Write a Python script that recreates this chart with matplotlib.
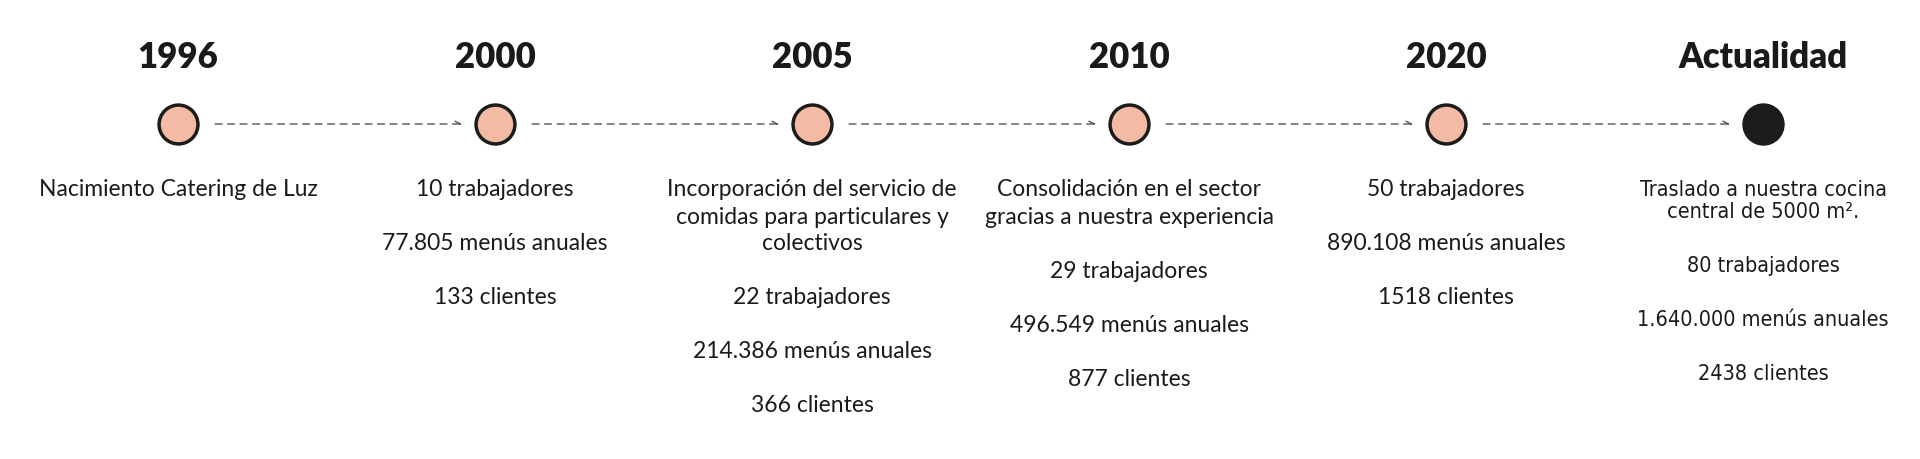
import matplotlib.pyplot as plt

years = ['1996', '2000', '2005', '2010', '2020', 'Actualidad']
descriptions = [
    [['Nacimiento Catering de Luz']],
    [['10 trabajadores'], ['77.805 menús anuales'], ['133 clientes']],
    [['Incorporación del servicio de', 'comidas para particulares y', 'colectivos'],
     ['22 trabajadores'], ['214.386 menús anuales'], ['366 clientes']],
    [['Consolidación en el sector', 'gracias a nuestra experiencia'],
     ['29 trabajadores'], ['496.549 menús anuales'], ['877 clientes']],
    [['50 trabajadores'], ['890.108 menús anuales'], ['1518 clientes']],
    [['Traslado a nuestra cocina', 'central de 5000 m².'],
     ['80 trabajadores'], ['1.640.000 menús anuales'], ['2438 clientes']],
]

fig = plt.figure(figsize=(19.2, 4.59), dpi=100)
ax = fig.add_axes([0, 0, 1, 1])
ax.set_xlim(-0.5615, 5.495)
ax.set_ylim(459, 0)
ax.axis('off')

node_y = 124
for i, year in enumerate(years):
    last = i == len(years) - 1
    ax.text(i, 58, year, ha='center', va='center', fontsize=25,
            fontweight='heavy', family='Lato', color='#1a1a1a')
    ax.plot(i, node_y, 'o', markersize=28,
            markerfacecolor='#1c1c1c' if last else '#f4bba4',
            markeredgecolor='#1c1c1c', markeredgewidth=2.5, zorder=3)
    if not last:
        ax.annotate('', xy=(i + 1 - 0.104, node_y), xytext=(i + 0.117, node_y),
                    arrowprops=dict(arrowstyle='->', color='#555555', lw=1,
                                    linestyle=(0, (5, 4)), shrinkA=0, shrinkB=0,
                                    mutation_scale=10))
    y = 190
    for para in descriptions[i]:
        for line in para:
            if last:
                ax.text(i, y, line, ha='center', va='center', fontsize=15.5,
                        family='DejaVu Sans', fontstretch='condensed', color='#1a1a1a')
            else:
                ax.text(i, y, line, ha='center', va='center', fontsize=16.5,
                        family='Lato', color='#1a1a1a')
            y += 22 if last else 27
        y += 54 - (22 if last else 27)

fig.savefig('out.png', dpi=100)
